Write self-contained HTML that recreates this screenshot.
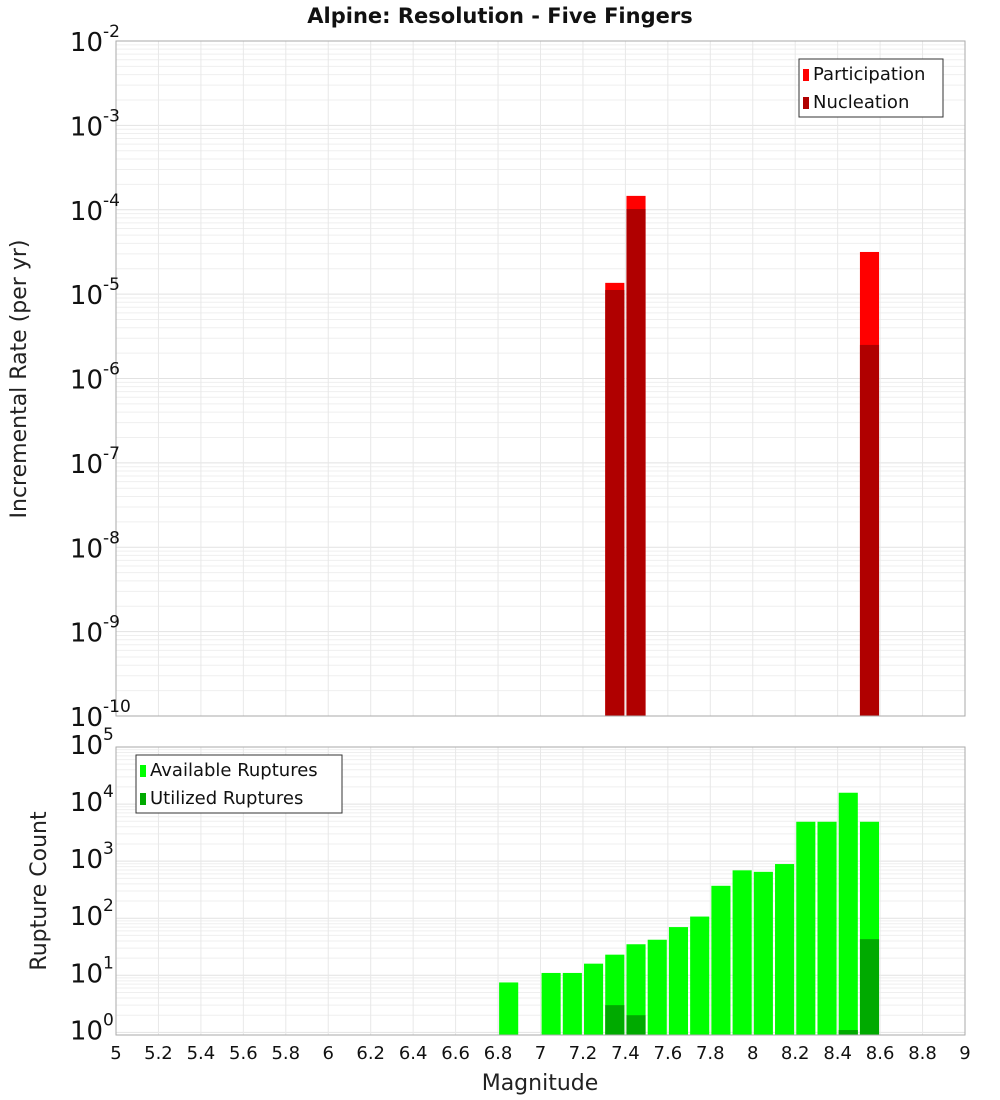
<!DOCTYPE html>
<html><head><meta charset="utf-8"><style>
body{margin:0;background:#fff}
svg{display:block;font-family:"DejaVu Sans","Liberation Sans",sans-serif}
</style></head><body>
<svg id="c" width="1000" height="1100"></svg>
<script>
const xTicks=[5,5.2,5.4,5.6,5.8,6,6.2,6.4,6.6,6.8,7,7.2,7.4,7.6,7.8,8,8.2,8.4,8.6,8.8,9];
const rateMags=[7.35,7.45,8.55];
const participation=[1.36e-5,1.46e-4,3.16e-5];
const nucleation=[1.12e-5,1.02e-4,2.5e-6];
const countMags=[6.85,7.05,7.15,7.25,7.35,7.45,7.55,7.65,7.75,7.85,7.95,8.05,8.15,8.25,8.35,8.45,8.55];
const available=[7.5,11,11,16,23,35,42,70,107,370,690,650,890,4900,4900,15800,4900];
const utilized=[0,0,0,0,3,2,0,0,0,0,0,0,0,0,0,1.1,43];
const topExp=[-10,-9,-8,-7,-6,-5,-4,-3,-2];
const botExp=[0,1,2,3,4,5];

const NS="http://www.w3.org/2000/svg",svg=document.getElementById('c');
function el(t,a,p){const e=document.createElementNS(NS,t);for(const k in a)e.setAttribute(k,a[k]);(p||svg).appendChild(e);return e;}
const X0=116,X1=965;
const x=m=>X0+(m-5)/4*(X1-X0);
const T0=41,T1=716;
const yTop=v=>T1-(Math.log10(v)+10)/8*(T1-T0);
const B0=747,B1=1035,bMin=Math.log10(0.9);
const yBot=v=>B1-(Math.log10(v)-bMin)/(5-bMin)*(B1-B0);
const bw=0.09/4*(X1-X0);

function grid(y,lo,hi,top,bot,name){
  const g=el('g',{});
  for(let e=lo;e<hi;e++)for(let k=1;k<10;k++){const yy=y(k*Math.pow(10,e));if(yy<top-0.5||yy>bot+0.5)continue;
    el('line',{x1:X0,x2:X1,y1:yy,y2:yy,stroke:k==1?'#e2e2e2':'#efefef','stroke-width':1},g);}
  xTicks.forEach(t=>el('line',{x1:x(t),x2:x(t),y1:top,y2:bot,stroke:'#e8e8e8'},g));
}
grid(yTop,-10,-2,T0,T1,'top-grid');
grid(yBot,-1,5,B0,B1,'bottom-grid');

rateMags.forEach((m,i)=>{
  const r=el('rect',{x:x(m)-bw/2,y:yTop(participation[i]),width:bw,height:T1-yTop(participation[i]),fill:'#ff0000'});
  
  const n=el('rect',{x:x(m)-bw/2,y:yTop(nucleation[i]),width:bw,height:T1-yTop(nucleation[i]),fill:'#b00000'});
  
});
countMags.forEach((m,i)=>{
  const a=el('rect',{x:x(m)-bw/2,y:yBot(available[i]),width:bw,height:B1-yBot(available[i]),fill:'#00ff00'});
  
  if(utilized[i]>0){const u=el('rect',{x:x(m)-bw/2,y:yBot(utilized[i]),width:bw,height:B1-yBot(utilized[i]),fill:'#00aa00'});
  }
});
const f1=el('rect',{x:X0,y:T0,width:X1-X0,height:T1-T0,fill:'none',stroke:'#aaa'});

const f2=el('rect',{x:X0,y:B0,width:X1-X0,height:B1-B0,fill:'none',stroke:'#aaa'});


function ylab(yy,e,name){
  const g=el('g',{});
  const t=el('text',{x:103,y:yy+10,'text-anchor':'end','font-size':26,fill:'#111'},g);
  t.textContent='10';
  const s=el('text',{x:103,y:yy-4,'text-anchor':'start','font-size':17,fill:'#111'},g);
  s.textContent=String(e);
}
topExp.forEach(e=>ylab(yTop(Math.pow(10,e)),e,'top-y-tick-label'));
botExp.forEach(e=>ylab(yBot(Math.pow(10,e))-3,e,'bottom-y-tick-label'));
xTicks.forEach(t=>{const tx=el('text',{x:x(t),y:1059,'text-anchor':'middle','font-size':18,fill:'#111'});
  tx.textContent=String(t);});

function txt(s,a,name){const t=el('text',a);t.textContent=s;return t;}
txt('Alpine: Resolution - Five Fingers',{x:500,y:23,'text-anchor':'middle','font-size':21,'font-weight':'bold',fill:'#111'},'chart-title');
txt('Magnitude',{x:540,y:1090,'text-anchor':'middle','font-size':22,fill:'#222'},'x-axis-title');
txt('Incremental Rate (per yr)',{x:0,y:0,'text-anchor':'middle','font-size':22,fill:'#222',transform:'translate(26,379) rotate(-90)'},'top-y-axis-title');
txt('Rupture Count',{x:0,y:0,'text-anchor':'middle','font-size':22,fill:'#222',transform:'translate(46,891) rotate(-90)'},'bottom-y-axis-title');

function legend(bx,by,w,items,name){
  const g=el('g',{});
  el('rect',{x:bx,y:by,width:w,height:58,fill:'#fff',stroke:'#333'},g);
  items.forEach((it,i)=>{
    el('rect',{x:bx+4,y:by+10+i*28,width:6,height:12,fill:it[1]},g);
    const t=el('text',{x:bx+14,y:by+21+i*28,'font-size':18,fill:'#111'},g);t.textContent=it[0];
  });
}
legend(799,59,144,[['Participation','#ff0000'],['Nucleation','#b00000']],'top-legend');
legend(136,755,206,[['Available Ruptures','#00ff00'],['Utilized Ruptures','#00aa00']],'bottom-legend');
</script>
</body></html>
